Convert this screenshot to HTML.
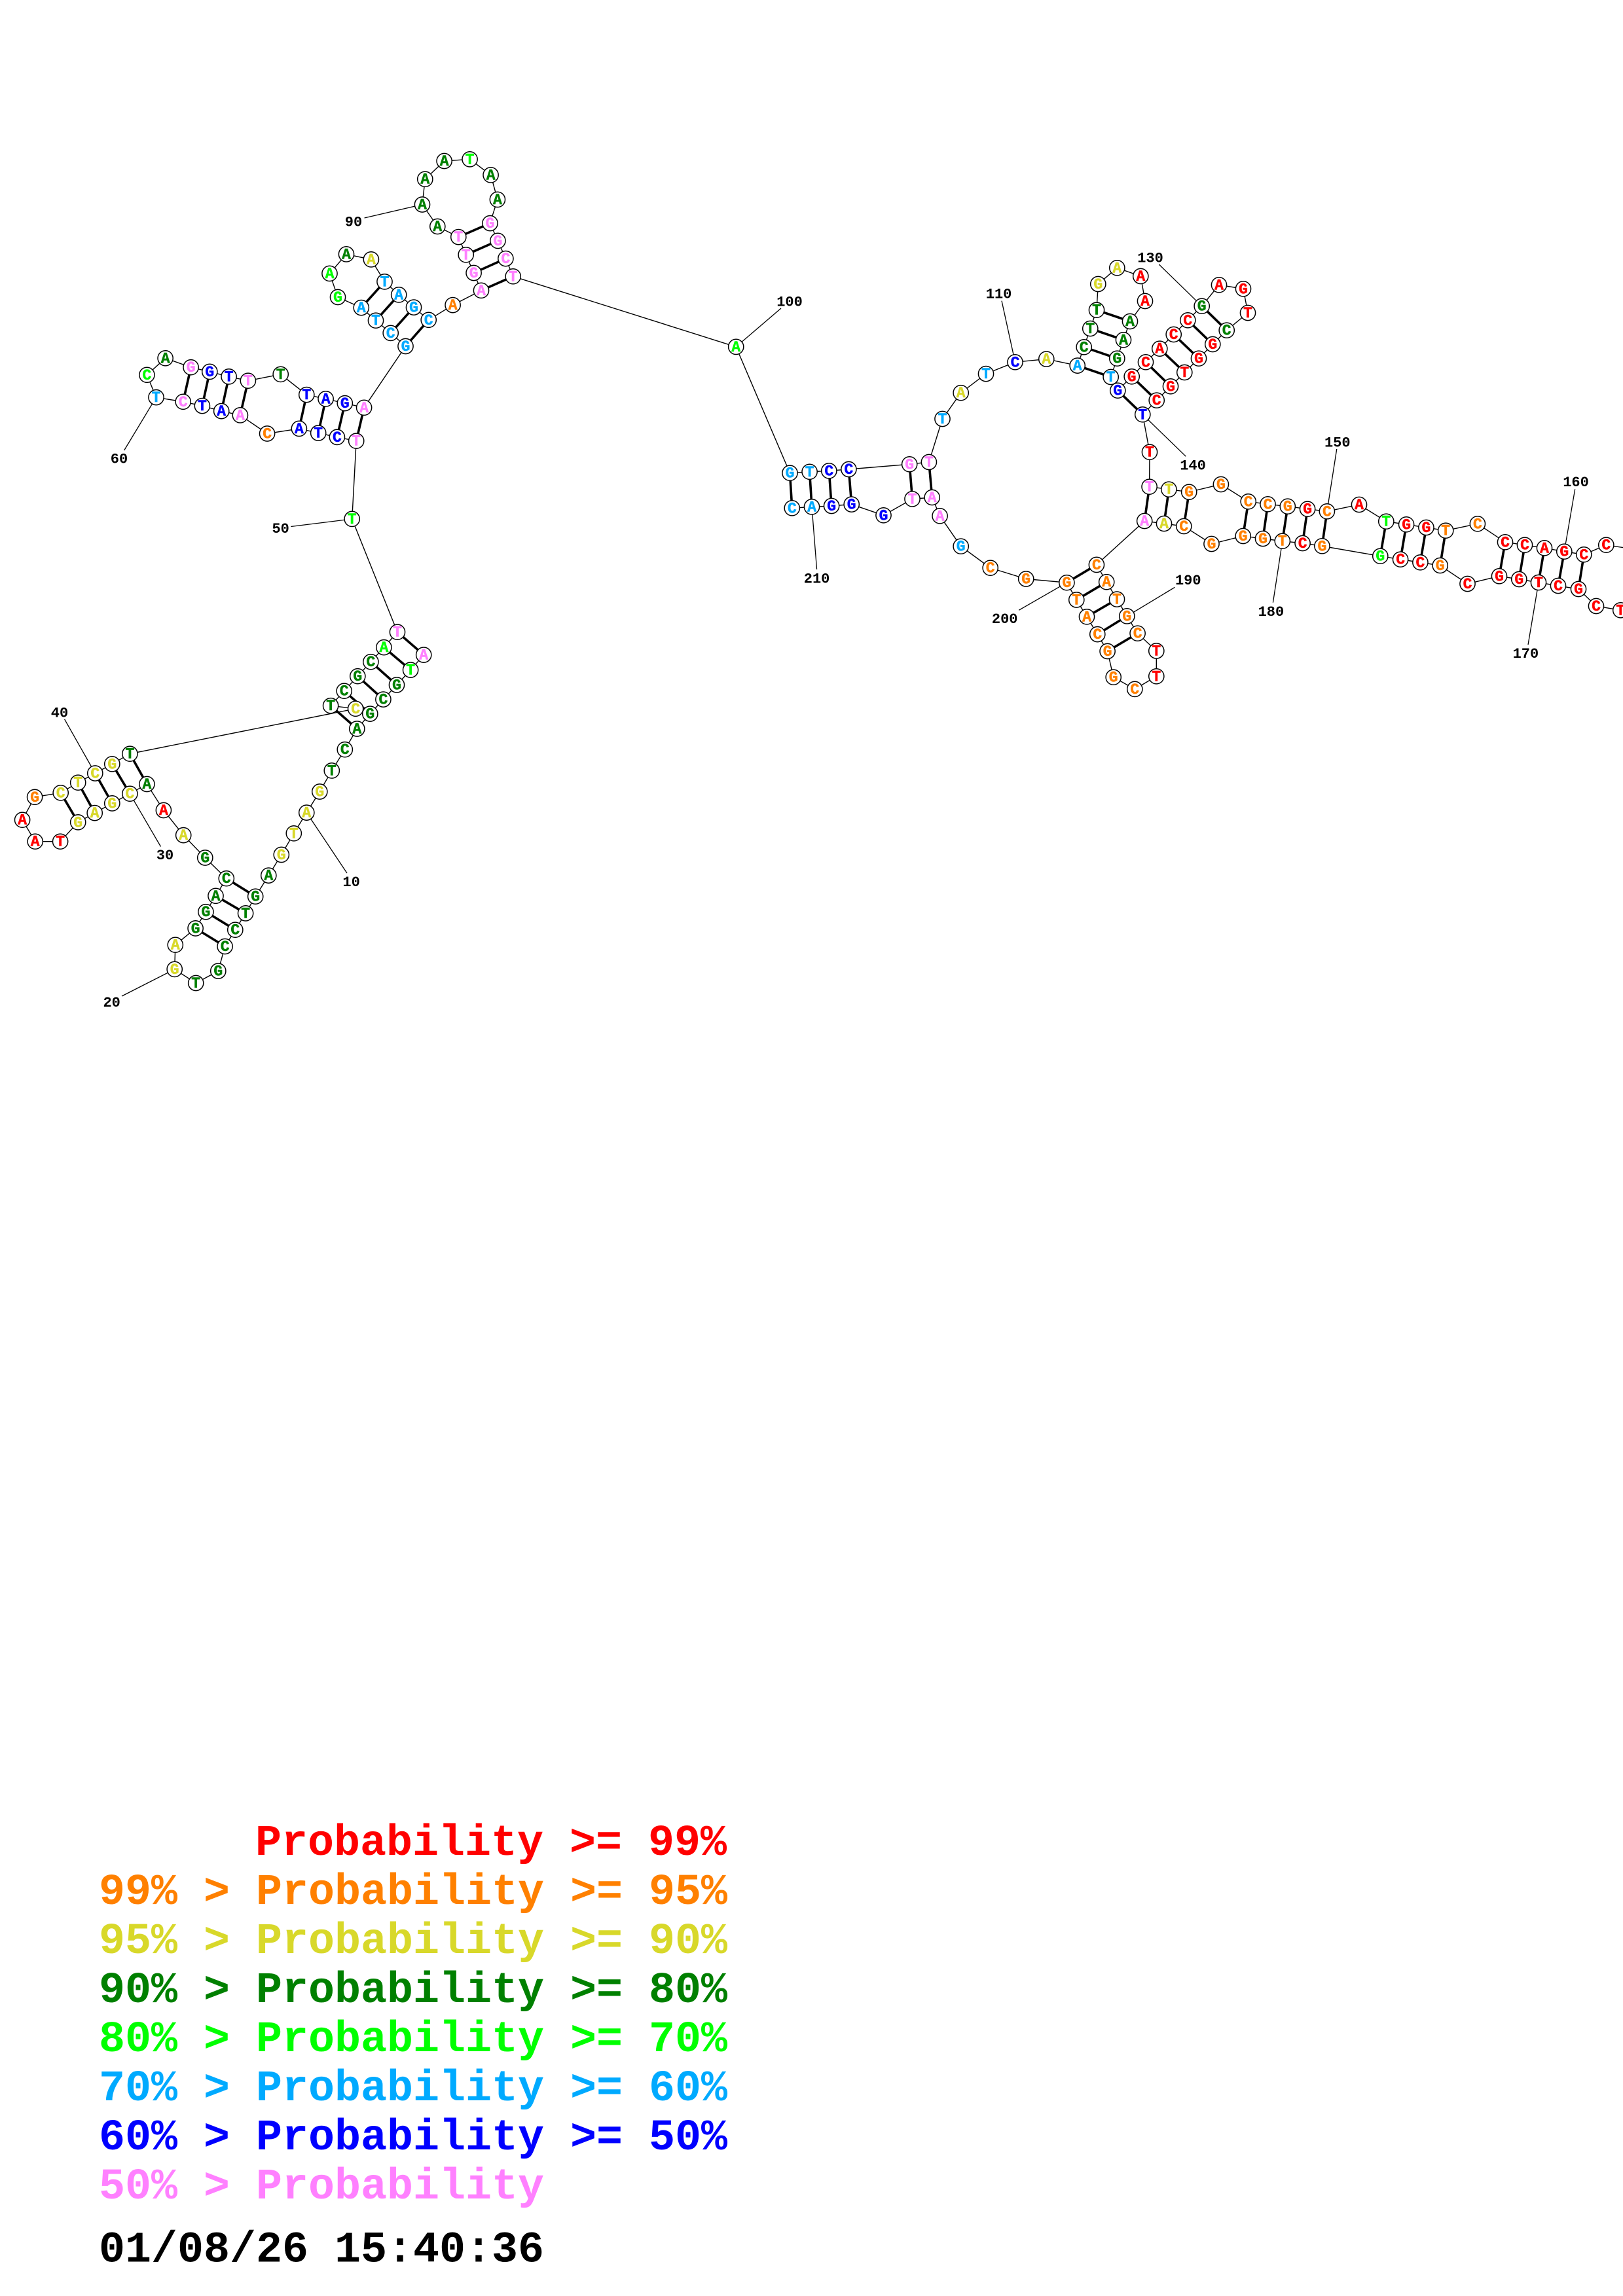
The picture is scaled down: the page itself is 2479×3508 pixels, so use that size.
<!DOCTYPE html>
<html lang="en">
<head>
<meta charset="utf-8">
<title>Probability diagram</title>
<style>
html,body{margin:0;padding:0;background:#fff}
svg{display:block}
text{font-family:"Liberation Mono",monospace;font-weight:bold}
.n text{font-size:23px;text-anchor:middle;stroke-width:.5}
.l text{font-size:22px;text-anchor:middle;fill:#000}
.k text{font-size:66.67px;white-space:pre;stroke:none}
.R{fill:#ff0000;stroke:#ff0000}.O{fill:#ff8000;stroke:#ff8000}.Y{fill:#d8d82a;stroke:#d8d82a}.G{fill:#008000;stroke:#008000}.L{fill:#00ff00;stroke:#00ff00}.C{fill:#00aaff;stroke:#00aaff}.B{fill:#0000ff;stroke:#0000ff}.P{fill:#ff80ff;stroke:#ff80ff}
</style>
</head>
<body>
<svg xmlns="http://www.w3.org/2000/svg" width="2479" height="3508" viewBox="0 0 2479 3508">
<rect width="2479" height="3508" fill="#fff"/>
<!-- label leader lines -->
<path fill="none" stroke="#000" stroke-width="1.3" d="M645 312.5L556.6 333M238.5 607.1L189.7 688M537.7 792.9L444.4 804.5M145.3 1181.5L98.6 1098.9M198.4 1212.7L245.5 1293.5M468.3 1241.6L530 1334M266.7 1480.9L186 1522M1124.2 529.9L1193 471M1550.5 553.3L1530 459.6M1240 774.4L1247.6 870M1629.4 890.2L1556.2 932.3M1835.7 467.7L1770.3 404M1745.3 633.3L1811.3 697.3M2026.9 781.3L2041.8 686M1958.8 826.7L1944.4 920.7M1721.3 941.4L1794.4 897.3M2389.3 842.7L2405.7 747.3M2350 890L2334 985"/>
<!-- backbone -->
<path fill="none" stroke="#000" stroke-width="1.4" d="M647.2 1000.6L627.1 1023.6L606 1046.5L585.4 1068.6L565.3 1090.6L545.3 1113.5L526.8 1145.2L506.8 1177.4L488.3 1209.5L468.3 1241.6L448.8 1273.3L429.8 1305.9L410.3 1337.6L390.2 1369.7L375.1 1395.4L359.3 1420.7L343.6 1446L333.3 1483.6L299.2 1502L266.7 1480.9L267.8 1443.7L298.6 1418.4L314.4 1393.2L329.5 1368.8L345.8 1342.2L313.3 1310.5L280.2 1276.1L249.9 1238L224.4 1198L198.4 1212.7L171.3 1227.4L144.7 1242.1L119.2 1256.3L92.1 1285.7L53.7 1285.7L34.1 1252.7L53.1 1217.8L92.7 1211.3L119.2 1195.7L145.3 1181.5L171.3 1167.3L198.4 1151.7L543.1 1082.8L505.1 1078.2L525.7 1055.7L546.3 1033.2L566.4 1011.2L586.4 989.1L607 965.7L537.7 792.9L544.2 673.7L514.9 667.9L486.2 661.6L456.9 654.9L408.1 662.5L366.9 634.4L338.2 628.1L308.9 620.1L279.7 613.8L238.5 607.1L224.4 572.8L252.6 547.3L291.6 561.2L320.3 567.9L349.6 575.4L378.9 581.7L428.7 571.9L468.3 603.1L497.6 609.4L526.8 616.1L556.1 622.8L619.5 529L596.7 508.9L574 489.7L551.8 470.1L516 454L503.5 417.9L529 388.4L566.9 396.4L587.5 430.4L609.2 450.4L632 469.6L654.7 488.8L691.6 466.1L735 443.8L723.6 417L711.7 389.3L700.3 362.1L668.3 346L645 312.5L649.3 273.7L678.6 246L717.6 243.3L749.6 267.4L759.9 304.9L748.5 341.1L760.4 367.9L772.4 395.1L783.7 422.3L1124.2 529.9L1206.5 722.7L1236.6 720.8L1266.3 719.4L1296.4 717L1389.2 709.3L1418.9 706L1439.5 640L1467.7 600.2L1506 571.1L1550.5 553.3L1598.3 548.6L1645.7 558.6L1655.7 530.3L1665.3 502L1675 473.7L1677.3 434L1706.3 409.3L1742.3 422L1749 460L1726 491L1716 519.3L1706.3 547.7L1696.7 576L1707.3 596.7L1728.7 575.3L1750 553.3L1771.3 532.7L1792.7 511L1814.3 489.3L1835.7 467.7L1862 435.3L1899 441.3L1906 478L1873.7 504.7L1852.3 526L1831 547.7L1809.3 569L1788 590.3L1766.7 611.7L1745.3 633.3L1756 690.7L1755.6 743.7L1785.4 747.7L1816.2 751.7L1864.9 740L1906.7 766.3L1936.5 770.3L1966.8 773.7L1997.1 777.7L2026.9 781.3L2076 771L2117.3 796.7L2148.1 801.3L2178.4 806L2208.2 810.7L2256.9 800.3L2299 828.3L2329 832.7L2359 837.3L2389.3 842.7L2419.3 847.3L2453.3 832.7L2495 839M2495 936L2475.3 932.3L2438 926L2411 900L2380 895L2350 890L2320.3 885L2290 880.3L2241.5 892L2199.7 864L2169.4 859.3L2139.1 854.7L2108.3 849.7L2019.4 834.3L1989.6 830L1958.8 826.7L1929 823L1898.7 819L1850.5 831L1808.3 804L1778 800L1748.2 796L1674.9 862.9L1690.2 889.2L1706 915.6L1721.3 941.4L1737.6 967.7L1766.3 994.5L1766.3 1033.3L1733.3 1052.9L1700.7 1034.7L1691.6 995L1676.3 969.1L1660 942.3L1644.3 916.5L1629.4 890.2L1567.2 884.5L1512.7 867.7L1467.7 834.7L1435.6 788.3L1423.7 760L1393.5 762.4L1349.5 787.3L1300.7 770.6L1270.1 773L1240 774.4L1209.8 776.3"/>
<!-- base pairs -->
<path fill="none" stroke="#000" stroke-width="3.6" d="M647.2 1000.6L607 965.7M627.1 1023.6L586.4 989.1M606 1046.5L566.4 1011.2M585.4 1068.6L546.3 1033.2M565.3 1090.6L525.7 1055.7M545.3 1113.5L505.1 1078.2M390.2 1369.7L345.8 1342.2M375.1 1395.4L329.5 1368.8M359.3 1420.7L314.4 1393.2M343.6 1446L298.6 1418.4M224.4 1198L198.4 1151.7M198.4 1212.7L171.3 1167.3M171.3 1227.4L145.3 1181.5M144.7 1242.1L119.2 1195.7M119.2 1256.3L92.7 1211.3M544.2 673.7L556.1 622.8M514.9 667.9L526.8 616.1M486.2 661.6L497.6 609.4M456.9 654.9L468.3 603.1M366.9 634.4L378.9 581.7M338.2 628.1L349.6 575.4M308.9 620.1L320.3 567.9M279.7 613.8L291.6 561.2M619.5 529L654.7 488.8M596.7 508.9L632 469.6M574 489.7L609.2 450.4M551.8 470.1L587.5 430.4M735 443.8L783.7 422.3M723.6 417L772.4 395.1M711.7 389.3L760.4 367.9M700.3 362.1L748.5 341.1M1206.5 722.7L1209.8 776.3M1236.6 720.8L1240 774.4M1266.3 719.4L1270.1 773M1296.4 717L1300.7 770.6M1389.2 709.3L1393.5 762.4M1418.9 706L1423.7 760M1645.7 558.6L1696.7 576M1655.7 530.3L1706.3 547.7M1665.3 502L1716 519.3M1675 473.7L1726 491M1707.3 596.7L1745.3 633.3M1728.7 575.3L1766.7 611.7M1750 553.3L1788 590.3M1771.3 532.7L1809.3 569M1792.7 511L1831 547.7M1814.3 489.3L1852.3 526M1835.7 467.7L1873.7 504.7M1755.6 743.7L1748.2 796M1785.4 747.7L1778 800M1816.2 751.7L1808.3 804M1906.7 766.3L1898.7 819M1936.5 770.3L1929 823M1966.8 773.7L1958.8 826.7M1997.1 777.7L1989.6 830M2026.9 781.3L2019.4 834.3M2117.3 796.7L2108.3 849.7M2148.1 801.3L2139.1 854.7M2178.4 806L2169.4 859.3M2208.2 810.7L2199.7 864M2299 828.3L2290 880.3M2329 832.7L2320.3 885M2359 837.3L2350 890M2389.3 842.7L2380 895M2419.3 847.3L2411 900M1674.9 862.9L1629.4 890.2M1690.2 889.2L1644.3 916.5M1706 915.6L1660 942.3M1721.3 941.4L1676.3 969.1M1737.6 967.7L1691.6 995"/>
<!-- nodes -->
<g fill="#fff" stroke="#000" stroke-width="1.5">
<circle cx="647.2" cy="1000.6" r="11.6"/><circle cx="627.1" cy="1023.6" r="11.6"/><circle cx="606" cy="1046.5" r="11.6"/><circle cx="585.4" cy="1068.6" r="11.6"/><circle cx="565.3" cy="1090.6" r="11.6"/><circle cx="545.3" cy="1113.5" r="11.6"/><circle cx="526.8" cy="1145.2" r="11.6"/><circle cx="506.8" cy="1177.4" r="11.6"/><circle cx="488.3" cy="1209.5" r="11.6"/><circle cx="468.3" cy="1241.6" r="11.6"/>
<circle cx="448.8" cy="1273.3" r="11.6"/><circle cx="429.8" cy="1305.9" r="11.6"/><circle cx="410.3" cy="1337.6" r="11.6"/><circle cx="390.2" cy="1369.7" r="11.6"/><circle cx="375.1" cy="1395.4" r="11.6"/><circle cx="359.3" cy="1420.7" r="11.6"/><circle cx="343.6" cy="1446" r="11.6"/><circle cx="333.3" cy="1483.6" r="11.6"/><circle cx="299.2" cy="1502" r="11.6"/><circle cx="266.7" cy="1480.9" r="11.6"/>
<circle cx="267.8" cy="1443.7" r="11.6"/><circle cx="298.6" cy="1418.4" r="11.6"/><circle cx="314.4" cy="1393.2" r="11.6"/><circle cx="329.5" cy="1368.8" r="11.6"/><circle cx="345.8" cy="1342.2" r="11.6"/><circle cx="313.3" cy="1310.5" r="11.6"/><circle cx="280.2" cy="1276.1" r="11.6"/><circle cx="249.9" cy="1238" r="11.6"/><circle cx="224.4" cy="1198" r="11.6"/><circle cx="198.4" cy="1212.7" r="11.6"/>
<circle cx="171.3" cy="1227.4" r="11.6"/><circle cx="144.7" cy="1242.1" r="11.6"/><circle cx="119.2" cy="1256.3" r="11.6"/><circle cx="92.1" cy="1285.7" r="11.6"/><circle cx="53.7" cy="1285.7" r="11.6"/><circle cx="34.1" cy="1252.7" r="11.6"/><circle cx="53.1" cy="1217.8" r="11.6"/><circle cx="92.7" cy="1211.3" r="11.6"/><circle cx="119.2" cy="1195.7" r="11.6"/><circle cx="145.3" cy="1181.5" r="11.6"/>
<circle cx="171.3" cy="1167.3" r="11.6"/><circle cx="198.4" cy="1151.7" r="11.6"/><circle cx="505.1" cy="1078.2" r="11.6"/><circle cx="525.7" cy="1055.7" r="11.6"/><circle cx="543.1" cy="1082.8" r="11.6"/><circle cx="546.3" cy="1033.2" r="11.6"/><circle cx="566.4" cy="1011.2" r="11.6"/><circle cx="586.4" cy="989.1" r="11.6"/><circle cx="607" cy="965.7" r="11.6"/><circle cx="537.7" cy="792.9" r="11.6"/>
<circle cx="544.2" cy="673.7" r="11.6"/><circle cx="514.9" cy="667.9" r="11.6"/><circle cx="486.2" cy="661.6" r="11.6"/><circle cx="456.9" cy="654.9" r="11.6"/><circle cx="408.1" cy="662.5" r="11.6"/><circle cx="366.9" cy="634.4" r="11.6"/><circle cx="338.2" cy="628.1" r="11.6"/><circle cx="308.9" cy="620.1" r="11.6"/><circle cx="279.7" cy="613.8" r="11.6"/><circle cx="238.5" cy="607.1" r="11.6"/>
<circle cx="224.4" cy="572.8" r="11.6"/><circle cx="252.6" cy="547.3" r="11.6"/><circle cx="291.6" cy="561.2" r="11.6"/><circle cx="320.3" cy="567.9" r="11.6"/><circle cx="349.6" cy="575.4" r="11.6"/><circle cx="378.9" cy="581.7" r="11.6"/><circle cx="428.7" cy="571.9" r="11.6"/><circle cx="468.3" cy="603.1" r="11.6"/><circle cx="497.6" cy="609.4" r="11.6"/><circle cx="526.8" cy="616.1" r="11.6"/>
<circle cx="556.1" cy="622.8" r="11.6"/><circle cx="619.5" cy="529" r="11.6"/><circle cx="596.7" cy="508.9" r="11.6"/><circle cx="574" cy="489.7" r="11.6"/><circle cx="551.8" cy="470.1" r="11.6"/><circle cx="516" cy="454" r="11.6"/><circle cx="503.5" cy="417.9" r="11.6"/><circle cx="529" cy="388.4" r="11.6"/><circle cx="566.9" cy="396.4" r="11.6"/><circle cx="587.5" cy="430.4" r="11.6"/>
<circle cx="609.2" cy="450.4" r="11.6"/><circle cx="632" cy="469.6" r="11.6"/><circle cx="654.7" cy="488.8" r="11.6"/><circle cx="691.6" cy="466.1" r="11.6"/><circle cx="735" cy="443.8" r="11.6"/><circle cx="723.6" cy="417" r="11.6"/><circle cx="711.7" cy="389.3" r="11.6"/><circle cx="700.3" cy="362.1" r="11.6"/><circle cx="668.3" cy="346" r="11.6"/><circle cx="645" cy="312.5" r="11.6"/>
<circle cx="649.3" cy="273.7" r="11.6"/><circle cx="678.6" cy="246" r="11.6"/><circle cx="717.6" cy="243.3" r="11.6"/><circle cx="749.6" cy="267.4" r="11.6"/><circle cx="759.9" cy="304.9" r="11.6"/><circle cx="748.5" cy="341.1" r="11.6"/><circle cx="760.4" cy="367.9" r="11.6"/><circle cx="772.4" cy="395.1" r="11.6"/><circle cx="783.7" cy="422.3" r="11.6"/><circle cx="1124.2" cy="529.9" r="11.6"/>
<circle cx="1206.5" cy="722.7" r="11.6"/><circle cx="1236.6" cy="720.8" r="11.6"/><circle cx="1266.3" cy="719.4" r="11.6"/><circle cx="1296.4" cy="717" r="11.6"/><circle cx="1389.2" cy="709.3" r="11.6"/><circle cx="1418.9" cy="706" r="11.6"/><circle cx="1439.5" cy="640" r="11.6"/><circle cx="1467.7" cy="600.2" r="11.6"/><circle cx="1506" cy="571.1" r="11.6"/><circle cx="1550.5" cy="553.3" r="11.6"/>
<circle cx="1598.3" cy="548.6" r="11.6"/><circle cx="1645.7" cy="558.6" r="11.6"/><circle cx="1655.7" cy="530.3" r="11.6"/><circle cx="1665.3" cy="502" r="11.6"/><circle cx="1675" cy="473.7" r="11.6"/><circle cx="1677.3" cy="434" r="11.6"/><circle cx="1706.3" cy="409.3" r="11.6"/><circle cx="1742.3" cy="422" r="11.6"/><circle cx="1749" cy="460" r="11.6"/><circle cx="1726" cy="491" r="11.6"/>
<circle cx="1716" cy="519.3" r="11.6"/><circle cx="1706.3" cy="547.7" r="11.6"/><circle cx="1696.7" cy="576" r="11.6"/><circle cx="1707.3" cy="596.7" r="11.6"/><circle cx="1728.7" cy="575.3" r="11.6"/><circle cx="1750" cy="553.3" r="11.6"/><circle cx="1771.3" cy="532.7" r="11.6"/><circle cx="1792.7" cy="511" r="11.6"/><circle cx="1814.3" cy="489.3" r="11.6"/><circle cx="1835.7" cy="467.7" r="11.6"/>
<circle cx="1862" cy="435.3" r="11.6"/><circle cx="1899" cy="441.3" r="11.6"/><circle cx="1906" cy="478" r="11.6"/><circle cx="1873.7" cy="504.7" r="11.6"/><circle cx="1852.3" cy="526" r="11.6"/><circle cx="1831" cy="547.7" r="11.6"/><circle cx="1809.3" cy="569" r="11.6"/><circle cx="1788" cy="590.3" r="11.6"/><circle cx="1766.7" cy="611.7" r="11.6"/><circle cx="1745.3" cy="633.3" r="11.6"/>
<circle cx="1756" cy="690.7" r="11.6"/><circle cx="1755.6" cy="743.7" r="11.6"/><circle cx="1785.4" cy="747.7" r="11.6"/><circle cx="1816.2" cy="751.7" r="11.6"/><circle cx="1864.9" cy="740" r="11.6"/><circle cx="1906.7" cy="766.3" r="11.6"/><circle cx="1936.5" cy="770.3" r="11.6"/><circle cx="1966.8" cy="773.7" r="11.6"/><circle cx="1997.1" cy="777.7" r="11.6"/><circle cx="2026.9" cy="781.3" r="11.6"/>
<circle cx="2076" cy="771" r="11.6"/><circle cx="2117.3" cy="796.7" r="11.6"/><circle cx="2148.1" cy="801.3" r="11.6"/><circle cx="2178.4" cy="806" r="11.6"/><circle cx="2208.2" cy="810.7" r="11.6"/><circle cx="2256.9" cy="800.3" r="11.6"/><circle cx="2299" cy="828.3" r="11.6"/><circle cx="2329" cy="832.7" r="11.6"/><circle cx="2359" cy="837.3" r="11.6"/><circle cx="2389.3" cy="842.7" r="11.6"/>
<circle cx="2419.3" cy="847.3" r="11.6"/><circle cx="2453.3" cy="832.7" r="11.6"/><circle cx="2475.3" cy="932.3" r="11.6"/><circle cx="2438" cy="926" r="11.6"/><circle cx="2411" cy="900" r="11.6"/><circle cx="2380" cy="895" r="11.6"/><circle cx="2350" cy="890" r="11.6"/><circle cx="2320.3" cy="885" r="11.6"/><circle cx="2290" cy="880.3" r="11.6"/><circle cx="2241.5" cy="892" r="11.6"/>
<circle cx="2199.7" cy="864" r="11.6"/><circle cx="2169.4" cy="859.3" r="11.6"/><circle cx="2139.1" cy="854.7" r="11.6"/><circle cx="2108.3" cy="849.7" r="11.6"/><circle cx="2019.4" cy="834.3" r="11.6"/><circle cx="1989.6" cy="830" r="11.6"/><circle cx="1958.8" cy="826.7" r="11.6"/><circle cx="1929" cy="823" r="11.6"/><circle cx="1898.7" cy="819" r="11.6"/><circle cx="1850.5" cy="831" r="11.6"/>
<circle cx="1808.3" cy="804" r="11.6"/><circle cx="1778" cy="800" r="11.6"/><circle cx="1748.2" cy="796" r="11.6"/><circle cx="1674.9" cy="862.9" r="11.6"/><circle cx="1690.2" cy="889.2" r="11.6"/><circle cx="1706" cy="915.6" r="11.6"/><circle cx="1721.3" cy="941.4" r="11.6"/><circle cx="1737.6" cy="967.7" r="11.6"/><circle cx="1766.3" cy="994.5" r="11.6"/><circle cx="1766.3" cy="1033.3" r="11.6"/>
<circle cx="1733.3" cy="1052.9" r="11.6"/><circle cx="1700.7" cy="1034.7" r="11.6"/><circle cx="1691.6" cy="995" r="11.6"/><circle cx="1676.3" cy="969.1" r="11.6"/><circle cx="1660" cy="942.3" r="11.6"/><circle cx="1644.3" cy="916.5" r="11.6"/><circle cx="1629.4" cy="890.2" r="11.6"/><circle cx="1567.2" cy="884.5" r="11.6"/><circle cx="1512.7" cy="867.7" r="11.6"/><circle cx="1467.7" cy="834.7" r="11.6"/>
<circle cx="1435.6" cy="788.3" r="11.6"/><circle cx="1423.7" cy="760" r="11.6"/><circle cx="1393.5" cy="762.4" r="11.6"/><circle cx="1349.5" cy="787.3" r="11.6"/><circle cx="1300.7" cy="770.6" r="11.6"/><circle cx="1270.1" cy="773" r="11.6"/><circle cx="1240" cy="774.4" r="11.6"/><circle cx="1209.8" cy="776.3" r="11.6"/>
</g>
<!-- node letters -->
<g class="n" transform="translate(0,7)">
<text class="P" x="647.2" y="1000.6">A</text><text class="L" x="627.1" y="1023.6">T</text><text class="G" x="606" y="1046.5">G</text><text class="G" x="585.4" y="1068.6">C</text><text class="G" x="565.3" y="1090.6">G</text><text class="G" x="545.3" y="1113.5">A</text><text class="G" x="526.8" y="1145.2">C</text><text class="G" x="506.8" y="1177.4">T</text><text class="Y" x="488.3" y="1209.5">G</text><text class="Y" x="468.3" y="1241.6">A</text>
<text class="Y" x="448.8" y="1273.3">T</text><text class="Y" x="429.8" y="1305.9">G</text><text class="G" x="410.3" y="1337.6">A</text><text class="G" x="390.2" y="1369.7">G</text><text class="G" x="375.1" y="1395.4">T</text><text class="G" x="359.3" y="1420.7">C</text><text class="G" x="343.6" y="1446">C</text><text class="G" x="333.3" y="1483.6">G</text><text class="G" x="299.2" y="1502">T</text><text class="Y" x="266.7" y="1480.9">G</text>
<text class="Y" x="267.8" y="1443.7">A</text><text class="G" x="298.6" y="1418.4">G</text><text class="G" x="314.4" y="1393.2">G</text><text class="G" x="329.5" y="1368.8">A</text><text class="G" x="345.8" y="1342.2">C</text><text class="G" x="313.3" y="1310.5">G</text><text class="Y" x="280.2" y="1276.1">A</text><text class="R" x="249.9" y="1238">A</text><text class="G" x="224.4" y="1198">A</text><text class="Y" x="198.4" y="1212.7">C</text>
<text class="Y" x="171.3" y="1227.4">G</text><text class="Y" x="144.7" y="1242.1">A</text><text class="Y" x="119.2" y="1256.3">G</text><text class="R" x="92.1" y="1285.7">T</text><text class="R" x="53.7" y="1285.7">A</text><text class="R" x="34.1" y="1252.7">A</text><text class="O" x="53.1" y="1217.8">G</text><text class="Y" x="92.7" y="1211.3">C</text><text class="Y" x="119.2" y="1195.7">T</text><text class="Y" x="145.3" y="1181.5">C</text>
<text class="Y" x="171.3" y="1167.3">G</text><text class="G" x="198.4" y="1151.7">T</text><text class="G" x="505.1" y="1078.2">T</text><text class="G" x="525.7" y="1055.7">C</text><text class="Y" x="543.1" y="1082.8">C</text><text class="G" x="546.3" y="1033.2">G</text><text class="G" x="566.4" y="1011.2">C</text><text class="L" x="586.4" y="989.1">A</text><text class="P" x="607" y="965.7">T</text><text class="L" x="537.7" y="792.9">T</text>
<text class="P" x="544.2" y="673.7">T</text><text class="B" x="514.9" y="667.9">C</text><text class="B" x="486.2" y="661.6">T</text><text class="B" x="456.9" y="654.9">A</text><text class="O" x="408.1" y="662.5">C</text><text class="P" x="366.9" y="634.4">A</text><text class="B" x="338.2" y="628.1">A</text><text class="B" x="308.9" y="620.1">T</text><text class="P" x="279.7" y="613.8">C</text><text class="C" x="238.5" y="607.1">T</text>
<text class="L" x="224.4" y="572.8">C</text><text class="G" x="252.6" y="547.3">A</text><text class="P" x="291.6" y="561.2">G</text><text class="B" x="320.3" y="567.9">G</text><text class="B" x="349.6" y="575.4">T</text><text class="P" x="378.9" y="581.7">T</text><text class="G" x="428.7" y="571.9">T</text><text class="B" x="468.3" y="603.1">T</text><text class="B" x="497.6" y="609.4">A</text><text class="B" x="526.8" y="616.1">G</text>
<text class="P" x="556.1" y="622.8">A</text><text class="C" x="619.5" y="529">G</text><text class="C" x="596.7" y="508.9">C</text><text class="C" x="574" y="489.7">T</text><text class="C" x="551.8" y="470.1">A</text><text class="L" x="516" y="454">G</text><text class="L" x="503.5" y="417.9">A</text><text class="G" x="529" y="388.4">A</text><text class="Y" x="566.9" y="396.4">A</text><text class="C" x="587.5" y="430.4">T</text>
<text class="C" x="609.2" y="450.4">A</text><text class="C" x="632" y="469.6">G</text><text class="C" x="654.7" y="488.8">C</text><text class="O" x="691.6" y="466.1">A</text><text class="P" x="735" y="443.8">A</text><text class="P" x="723.6" y="417">G</text><text class="P" x="711.7" y="389.3">T</text><text class="P" x="700.3" y="362.1">T</text><text class="G" x="668.3" y="346">A</text><text class="G" x="645" y="312.5">A</text>
<text class="G" x="649.3" y="273.7">A</text><text class="G" x="678.6" y="246">A</text><text class="L" x="717.6" y="243.3">T</text><text class="G" x="749.6" y="267.4">A</text><text class="G" x="759.9" y="304.9">A</text><text class="P" x="748.5" y="341.1">G</text><text class="P" x="760.4" y="367.9">G</text><text class="P" x="772.4" y="395.1">C</text><text class="P" x="783.7" y="422.3">T</text><text class="L" x="1124.2" y="529.9">A</text>
<text class="C" x="1206.5" y="722.7">G</text><text class="C" x="1236.6" y="720.8">T</text><text class="B" x="1266.3" y="719.4">C</text><text class="B" x="1296.4" y="717">C</text><text class="P" x="1389.2" y="709.3">G</text><text class="P" x="1418.9" y="706">T</text><text class="C" x="1439.5" y="640">T</text><text class="Y" x="1467.7" y="600.2">A</text><text class="C" x="1506" y="571.1">T</text><text class="B" x="1550.5" y="553.3">C</text>
<text class="Y" x="1598.3" y="548.6">A</text><text class="C" x="1645.7" y="558.6">A</text><text class="G" x="1655.7" y="530.3">C</text><text class="G" x="1665.3" y="502">T</text><text class="G" x="1675" y="473.7">T</text><text class="Y" x="1677.3" y="434">G</text><text class="Y" x="1706.3" y="409.3">A</text><text class="R" x="1742.3" y="422">A</text><text class="R" x="1749" y="460">A</text><text class="G" x="1726" y="491">A</text>
<text class="G" x="1716" y="519.3">A</text><text class="G" x="1706.3" y="547.7">G</text><text class="C" x="1696.7" y="576">T</text><text class="B" x="1707.3" y="596.7">G</text><text class="R" x="1728.7" y="575.3">G</text><text class="R" x="1750" y="553.3">C</text><text class="R" x="1771.3" y="532.7">A</text><text class="R" x="1792.7" y="511">C</text><text class="R" x="1814.3" y="489.3">C</text><text class="G" x="1835.7" y="467.7">G</text>
<text class="R" x="1862" y="435.3">A</text><text class="R" x="1899" y="441.3">G</text><text class="R" x="1906" y="478">T</text><text class="G" x="1873.7" y="504.7">C</text><text class="R" x="1852.3" y="526">G</text><text class="R" x="1831" y="547.7">G</text><text class="R" x="1809.3" y="569">T</text><text class="R" x="1788" y="590.3">G</text><text class="R" x="1766.7" y="611.7">C</text><text class="B" x="1745.3" y="633.3">T</text>
<text class="R" x="1756" y="690.7">T</text><text class="P" x="1755.6" y="743.7">T</text><text class="Y" x="1785.4" y="747.7">T</text><text class="O" x="1816.2" y="751.7">G</text><text class="O" x="1864.9" y="740">G</text><text class="O" x="1906.7" y="766.3">C</text><text class="O" x="1936.5" y="770.3">C</text><text class="O" x="1966.8" y="773.7">G</text><text class="R" x="1997.1" y="777.7">G</text><text class="O" x="2026.9" y="781.3">C</text>
<text class="R" x="2076" y="771">A</text><text class="L" x="2117.3" y="796.7">T</text><text class="R" x="2148.1" y="801.3">G</text><text class="R" x="2178.4" y="806">G</text><text class="O" x="2208.2" y="810.7">T</text><text class="O" x="2256.9" y="800.3">C</text><text class="R" x="2299" y="828.3">C</text><text class="R" x="2329" y="832.7">C</text><text class="R" x="2359" y="837.3">A</text><text class="R" x="2389.3" y="842.7">G</text>
<text class="R" x="2419.3" y="847.3">C</text><text class="R" x="2453.3" y="832.7">C</text><text class="R" x="2475.3" y="932.3">T</text><text class="R" x="2438" y="926">C</text><text class="R" x="2411" y="900">G</text><text class="R" x="2380" y="895">C</text><text class="R" x="2350" y="890">T</text><text class="R" x="2320.3" y="885">G</text><text class="R" x="2290" y="880.3">G</text><text class="R" x="2241.5" y="892">C</text>
<text class="O" x="2199.7" y="864">G</text><text class="R" x="2169.4" y="859.3">C</text><text class="R" x="2139.1" y="854.7">C</text><text class="L" x="2108.3" y="849.7">G</text><text class="O" x="2019.4" y="834.3">G</text><text class="R" x="1989.6" y="830">C</text><text class="O" x="1958.8" y="826.7">T</text><text class="O" x="1929" y="823">G</text><text class="O" x="1898.7" y="819">G</text><text class="O" x="1850.5" y="831">G</text>
<text class="O" x="1808.3" y="804">C</text><text class="Y" x="1778" y="800">A</text><text class="P" x="1748.2" y="796">A</text><text class="O" x="1674.9" y="862.9">C</text><text class="O" x="1690.2" y="889.2">A</text><text class="O" x="1706" y="915.6">T</text><text class="O" x="1721.3" y="941.4">G</text><text class="O" x="1737.6" y="967.7">C</text><text class="R" x="1766.3" y="994.5">T</text><text class="R" x="1766.3" y="1033.3">T</text>
<text class="O" x="1733.3" y="1052.9">C</text><text class="O" x="1700.7" y="1034.7">G</text><text class="O" x="1691.6" y="995">G</text><text class="O" x="1676.3" y="969.1">C</text><text class="O" x="1660" y="942.3">A</text><text class="O" x="1644.3" y="916.5">T</text><text class="O" x="1629.4" y="890.2">G</text><text class="O" x="1567.2" y="884.5">G</text><text class="O" x="1512.7" y="867.7">C</text><text class="C" x="1467.7" y="834.7">G</text>
<text class="P" x="1435.6" y="788.3">A</text><text class="P" x="1423.7" y="760">A</text><text class="P" x="1393.5" y="762.4">T</text><text class="B" x="1349.5" y="787.3">G</text><text class="B" x="1300.7" y="770.6">G</text><text class="B" x="1270.1" y="773">G</text><text class="C" x="1240" y="774.4">A</text><text class="C" x="1209.8" y="776.3">C</text>
</g>
<!-- numeric labels -->
<g class="l" transform="translate(0,7)">
<text x="536.6" y="1346.8">10</text><text x="170.7" y="1531">20</text><text x="252" y="1306">30</text><text x="91" y="1088.3">40</text><text x="428.7" y="807">50</text><text x="182" y="700.4">60</text><text x="540" y="338.4">90</text><text x="1206" y="460.5">100</text><text x="1525.6" y="448.6">110</text><text x="1757" y="393.3">130</text><text x="1822" y="710.7">140</text><text x="2042.8" y="675.3">150</text><text x="2407" y="736">160</text><text x="2330.4" y="998">170</text><text x="1941.4" y="934">180</text><text x="1814.8" y="886">190</text><text x="1534.7" y="945">200</text><text x="1247.6" y="883.5">210</text>
</g>
<!-- legend -->
<g class="k" transform="translate(1,2)">
<text class="R" x="389" y="2832">Probability &gt;= 99%</text>
<text class="O" x="150" y="2907">99% &gt; Probability &gt;= 95%</text>
<text class="Y" x="150" y="2982">95% &gt; Probability &gt;= 90%</text>
<text class="G" x="150" y="3057">90% &gt; Probability &gt;= 80%</text>
<text class="L" x="150" y="3132">80% &gt; Probability &gt;= 70%</text>
<text class="C" x="150" y="3207">70% &gt; Probability &gt;= 60%</text>
<text class="B" x="150" y="3282">60% &gt; Probability &gt;= 50%</text>
<text class="P" x="150" y="3357">50% &gt; Probability</text>
<text x="150" y="3453.5" fill="#000">01/08/26 15:40:36</text>
</g>
</svg>
</body>
</html>
